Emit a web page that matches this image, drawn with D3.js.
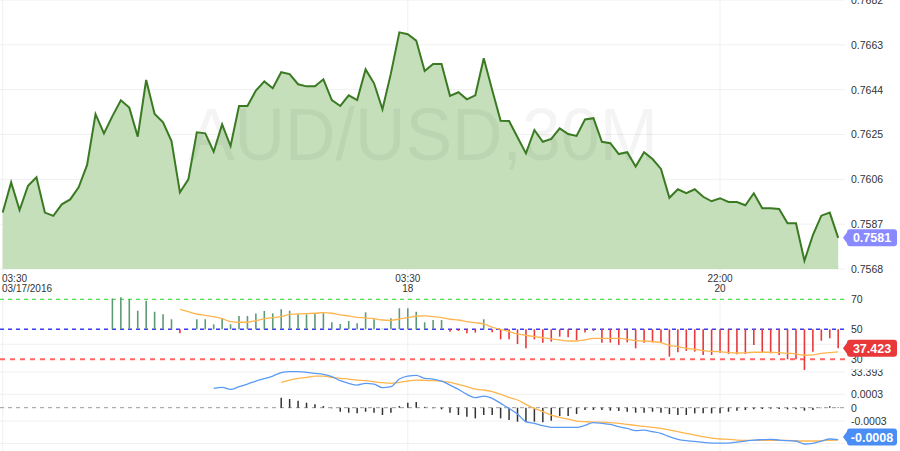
<!DOCTYPE html>
<html>
<head>
<meta charset="utf-8">
<script src="https://cdn.jsdelivr.net/npm/d3@7"></script>
<style>
  html, body { margin: 0; padding: 0; background: #fff; }
  svg { display: block; }
  text { font-family: "Liberation Sans", Arial, sans-serif; }
</style>
</head>
<body>
<svg id="chart" width="900" height="451"></svg>
<script>
// ---------------- DATA ----------------
const title = "AUD/USD,30M";

// 30-minute closes, index 0 = 03:30 03/17/2016
const price = [
  0.75919,0.76047,0.75930,0.76033,0.76069,0.75919,0.75905,0.75954,0.75975,0.76026,
  0.76121,0.76336,0.76255,0.76328,0.76395,0.76364,0.76241,0.76481,0.76337,0.76302,
  0.76222,0.76005,0.76060,0.76259,0.76255,0.76177,0.76293,0.76201,0.76371,0.76371,
  0.76436,0.76475,0.76446,0.76514,0.76506,0.76463,0.76454,0.76454,0.76484,0.76396,
  0.76371,0.76416,0.76396,0.76526,0.76467,0.76357,0.76509,0.76683,0.76675,0.76648,
  0.76519,0.76549,0.76549,0.76414,0.76429,0.76399,0.76416,0.76573,0.76439,0.76308,
  0.76307,0.76238,0.76170,0.76269,0.76219,0.76231,0.76276,0.76252,0.76244,0.76314,
  0.76319,0.76219,0.76213,0.76167,0.76175,0.76114,0.76175,0.76146,0.76104,0.75982,
  0.76018,0.76001,0.76018,0.75986,0.75967,0.75980,0.75964,0.75964,0.75950,0.76001,
  0.75937,0.75937,0.75934,0.75874,0.75874,0.75715,0.75824,0.75906,0.75919,0.75812
];

// RSI, starts at index 13
const rsiStart = 13;
const rsi = [
  70.5,71.3,70.0,62.4,69.1,61.7,60.0,56.7,47.3,50.3,
  56.7,56.7,53.3,57.3,53.3,58.9,58.9,60.6,62.2,60.6,
  63.3,62.4,60.0,60.0,60.7,60.7,54.7,53.5,55.5,54.0,
  61.3,56.7,50.5,57.3,64.0,64.0,61.7,54.7,56.2,56.2,
  48.4,48.9,47.3,47.8,56.7,48.0,43.3,43.3,40.2,37.3,
  43.3,41.1,41.8,45.1,44.7,42.9,47.8,48.9,41.1,41.1,
  39.6,41.3,37.3,41.1,41.3,41.1,31.8,34.7,35.6,35.1,
  32.9,32.9,34.4,33.6,33.3,33.6,39.6,34.4,34.0,32.9,
  30.0,30.0,22.9,35.1,42.4,44.0,37.423
];

// RSI moving average, starts at index 21
const rsiMaStart = 21;
const rsiMa = [
  63.3,61.8,60.2,59.3,58.4,57.1,55.1,54.7,54.7,55.8,
  57.1,57.8,58.4,60.0,60.2,60.4,60.7,61.1,60.7,59.6,
  58.9,58.0,57.6,57.1,56.2,56.0,56.9,57.8,58.7,58.9,
  58.4,57.8,56.7,56.2,55.1,54.4,53.6,51.3,50.0,48.4,
  46.9,46.0,45.1,44.4,43.6,42.9,42.2,42.2,42.9,44.0,
  44.0,44.0,44.0,43.3,42.4,42.2,41.8,41.1,39.3,38.4,
  37.3,36.7,35.8,35.3,35.1,34.4,34.2,34.4,34.7,34.7,
  34.7,34.4,34.0,33.6,32.7,32.9,34.0,34.4,34.9
];

// MACD (x 1e-4), starts at index 25
const macdStart = 25;
const macd = [
  4.33,4.55,4.10,4.70,5.30,5.97,6.49,7.09,7.84,8.06,
  8.06,7.91,7.69,7.46,6.94,6.04,5.45,5.07,5.45,5.30,
  4.48,4.70,6.42,7.09,7.24,6.57,6.42,5.97,5.07,4.10,
  2.99,2.24,2.61,2.09,0.97,-0.15,-1.42,-3.13,-3.51,-4.03,
  -4.40,-4.40,-4.40,-4.40,-3.96,-3.36,-3.51,-3.73,-4.25,-4.63,
  -5.15,-5.00,-5.37,-5.75,-6.49,-7.09,-7.39,-7.54,-7.76,-7.91,
  -7.91,-7.91,-7.69,-7.46,-7.24,-7.16,-7.09,-7.24,-7.39,-7.46,
  -8.13,-7.99,-7.46,-7.01,-7.16
];

// Signal line (x 1e-4), starts at index 33
const signalStart = 33;
const signal = [
  5.67,6.19,6.57,6.79,7.09,7.09,6.79,6.57,6.42,6.19,
  6.04,5.82,5.60,5.45,5.67,5.97,6.19,6.12,6.04,5.97,
  5.67,5.22,4.70,4.18,3.96,3.58,2.99,2.31,1.72,0.75,
  -0.15,-0.90,-1.64,-2.16,-2.54,-2.99,-3.13,-3.21,-3.21,-3.36,
  -3.51,-3.73,-3.96,-4.18,-4.40,-4.63,-5.00,-5.37,-5.75,-6.12,
  -6.49,-6.79,-7.01,-7.09,-7.24,-7.31,-7.31,-7.31,-7.31,-7.31,
  -7.31,-7.46,-7.46,-7.46,-7.39,-7.31,-7.24
];

// Histogram (x 1e-4), starts at index 33
const histStart = 33;
const hist = [
  2.24,1.94,1.57,1.12,0.75,0.37,-0.15,-0.90,-1.12,-1.27,
  -0.90,-1.12,-1.64,-1.12,0.37,1.12,1.27,0.20,-0.15,-0.37,
  -1.12,-1.64,-2.01,-2.39,-1.64,-1.64,-2.39,-2.76,-3.13,-3.28,
  -3.13,-3.28,-2.91,-1.87,-1.87,-1.42,-0.52,-0.52,-0.52,-0.67,
  -0.75,-0.90,-1.12,-1.12,-0.90,-1.12,-1.42,-1.64,-1.64,-1.27,
  -1.27,-1.27,-1.27,-0.90,-0.67,-0.52,-0.37,-0.30,-0.22,-0.30,
  -0.37,-0.37,-0.67,-0.52,-0.10,0.30,0.10
];

const priceTicks = [0.7568,0.7587,0.7606,0.7625,0.7644,0.7663,0.7682];
const rsiTicks = [70,50,30];
const rsiGrid = [40];
const macdTicks = [0.0003,0,-0.0003];
const macdTickLabels = ["0.0003","0","-0.0003"];
const macdGrid = [0.0008,0.0003,-0.0003,-0.0008];
const timeTickIndex = [0,48,85];
const timeTickTop = ["03:30","03:30","22:00"];
const timeTickBottom = ["03/17/2016","18","20"];
const lastLabels = ["0.7581","37.423","-0.0008"];
const hiddenLabel = "33.393";

// ---------------- SCALES ----------------
const svg = d3.select("#chart");
const n = price.length;
const x = d3.scaleLinear().domain([0, n - 1]).range([2.7, 838.2]);
const yP = d3.scaleLinear().domain([0.7568, 0.7682]).range([269, 0]);
const yR = d3.scaleLinear().domain([30, 70]).range([359.3, 299.3]);
const yM = d3.scaleLinear().domain([0, 0.0003]).range([407.7, 394.3]);

const gridColor = "#f0f0f0";
const textColor = "#333";

// ---------------- GRID ----------------
const grid = svg.append("g");
grid.selectAll(".hp").data(priceTicks).join("line")
  .attr("x1", 0).attr("x2", 845).attr("y1", d => yP(d)).attr("y2", d => yP(d))
  .attr("stroke", gridColor).attr("stroke-width", 1);
grid.selectAll(".hr").data(rsiGrid).join("line")
  .attr("x1", 0).attr("x2", 845).attr("y1", d => yR(d)).attr("y2", d => yR(d))
  .attr("stroke", gridColor).attr("stroke-width", 1);
grid.selectAll(".hm").data(macdGrid).join("line")
  .attr("x1", 0).attr("x2", 845).attr("y1", d => yM(d)).attr("y2", d => yM(d))
  .attr("stroke", gridColor).attr("stroke-width", 1);
grid.selectAll(".v").data(timeTickIndex).join("line")
  .attr("x1", d => x(d)).attr("x2", d => x(d)).attr("y1", 0).attr("y2", 451)
  .attr("stroke", gridColor).attr("stroke-width", 1);

// ---------------- MAIN PRICE ----------------
const pts = price.map((v, i) => [i, v]);
svg.append("path").datum(pts)
  .attr("d", d3.area().x(d => x(d[0])).y0(yP(0.7568)).y1(d => yP(d[1])))
  .attr("fill", "#c4dfba");

svg.append("text")
  .attr("x", 188).attr("y", 160)
  .attr("font-size", 74)
  .attr("textLength", 470).attr("lengthAdjust", "spacingAndGlyphs")
  .attr("fill", "#000").attr("fill-opacity", 0.045)
  .text(title);

svg.append("path").datum(pts)
  .attr("d", d3.line().x(d => x(d[0])).y(d => yP(d[1])))
  .attr("fill", "none").attr("stroke", "#3a7a22").attr("stroke-width", 2)
  .attr("stroke-linejoin", "miter");

// ---------------- RSI PANEL ----------------
const rsiG = svg.append("g");
const refLines = [
  {v: 70, c: "#22dd22", w: 1, dash: "4,4"},
  {v: 50, c: "#3a3af0", w: 1.5, dash: "4,4"},
  {v: 30, c: "#ff6666", w: 2, dash: "5,5"}
];
rsiG.selectAll(".ref").data(refLines).join("line")
  .attr("x1", 0).attr("x2", 845).attr("y1", d => yR(d.v)).attr("y2", d => yR(d.v))
  .attr("stroke", d => d.c).attr("stroke-width", d => d.w).attr("stroke-dasharray", d => d.dash);

const rsiData = rsi.map((v, k) => [k + rsiStart, v]);
rsiG.selectAll(".rb").data(rsiData).join("line")
  .attr("x1", d => x(d[0])).attr("x2", d => x(d[0]))
  .attr("y1", yR(50)).attr("y2", d => yR(d[1]))
  .attr("stroke", d => d[1] >= 50 ? "#5c9c72" : "#e8383a")
  .attr("stroke-width", 1.6);

const rsiMaData = rsiMa.map((v, k) => [k + rsiMaStart, v]);
rsiG.append("path").datum(rsiMaData)
  .attr("d", d3.line().curve(d3.curveMonotoneX).x(d => x(d[0])).y(d => yR(d[1])))
  .attr("fill", "none").attr("stroke", "#ffb54d").attr("stroke-width", 1.3);

// ---------------- MACD PANEL ----------------
const mG = svg.append("g");
mG.append("line").attr("x1", 0).attr("x2", 845).attr("y1", yM(0)).attr("y2", yM(0))
  .attr("stroke", "#999").attr("stroke-width", 1).attr("stroke-dasharray", "4,4");

const histData = hist.map((v, k) => [k + histStart, v * 1e-4]);
mG.selectAll(".hb").data(histData).join("line")
  .attr("x1", d => x(d[0])).attr("x2", d => x(d[0]))
  .attr("y1", yM(0)).attr("y2", d => yM(d[1]))
  .attr("stroke", "#333").attr("stroke-width", 1.5);

const macdData = macd.map((v, k) => [k + macdStart, v * 1e-4]);
const sigData = signal.map((v, k) => [k + signalStart, v * 1e-4]);
const mLine = d3.line().curve(d3.curveMonotoneX).x(d => x(d[0])).y(d => yM(d[1]));
mG.append("path").datum(sigData).attr("d", mLine)
  .attr("fill", "none").attr("stroke", "#ffb54d").attr("stroke-width", 1.3);
mG.append("path").datum(macdData).attr("d", mLine)
  .attr("fill", "none").attr("stroke", "#5a9af5").attr("stroke-width", 1.3);

// ---------------- AXES ----------------
const axP = d3.axisRight(yP).tickValues(priceTicks).tickSize(0).tickPadding(0)
  .tickFormat(d3.format(".4f"));
const axR = d3.axisRight(yR).tickValues(rsiTicks).tickSize(0).tickPadding(0);
const axM = d3.axisRight(yM).tickValues(macdTicks).tickSize(0).tickPadding(0)
  .tickFormat((d, i) => macdTickLabels[i]);
[axP, axR, axM].forEach(ax => {
  const g = svg.append("g").attr("transform", "translate(851,0)").call(ax);
  g.select(".domain").remove();
  g.selectAll("text").attr("fill", textColor).attr("font-size", "10.5px")
    .attr("font-family", "'Liberation Sans', Arial, sans-serif");
});

// half-hidden label below RSI panel
svg.append("clipPath").attr("id", "hclip").append("rect")
  .attr("x", 845).attr("y", 369.5).attr("width", 55).attr("height", 10);
svg.append("text").attr("clip-path", "url(#hclip)")
  .attr("x", 851).attr("y", 375.5).attr("font-size", "10.5px").attr("fill", textColor)
  .text(hiddenLabel);

// time labels
const tl = svg.append("g");
timeTickIndex.forEach((idx, k) => {
  const anchor = k === 0 ? "start" : "middle";
  const xx = k === 0 ? 2 : x(idx);
  tl.append("text").attr("x", xx).attr("y", 281.5).attr("text-anchor", anchor)
    .attr("font-size", "10px").attr("fill", textColor).text(timeTickTop[k]);
  tl.append("text").attr("x", xx).attr("y", 292).attr("text-anchor", anchor)
    .attr("font-size", "10px").attr("fill", textColor).text(timeTickBottom[k]);
});

// ---------------- CURRENT VALUE LABELS ----------------
function valueTag(yc, color, label) {
  const x0 = 843, x1 = 847, x2 = 897, h = 17, r = 3;
  const t = yc - h / 2, b = yc + h / 2;
  const p = `M${x0},${yc} L${x1},${t + 3} L${x1},${t + r} Q${x1},${t} ${x1 + r},${t}
    L${x2 - r},${t} Q${x2},${t} ${x2},${t + r} L${x2},${b - r} Q${x2},${b} ${x2 - r},${b}
    L${x1 + r},${b} Q${x1},${b} ${x1},${b - r} L${x1},${b - 3} Z`;
  svg.append("path").attr("d", p).attr("fill", color);
  svg.append("text").attr("x", (x1 + x2) / 2).attr("y", yc).attr("dy", "0.36em")
    .attr("text-anchor", "middle").attr("fill", "#fff").attr("font-weight", "bold")
    .attr("font-size", "12.5px").text(label);
}
valueTag(yP(price[n - 1]), "#8a8aff", lastLabels[0]);
valueTag(yR(rsi[rsi.length - 1]), "#e8383a", lastLabels[1]);
valueTag(Math.min(yM(macd[macd.length - 1] * 1e-4), 437), "#4a8ef5", lastLabels[2]);
</script>
</body>
</html>
